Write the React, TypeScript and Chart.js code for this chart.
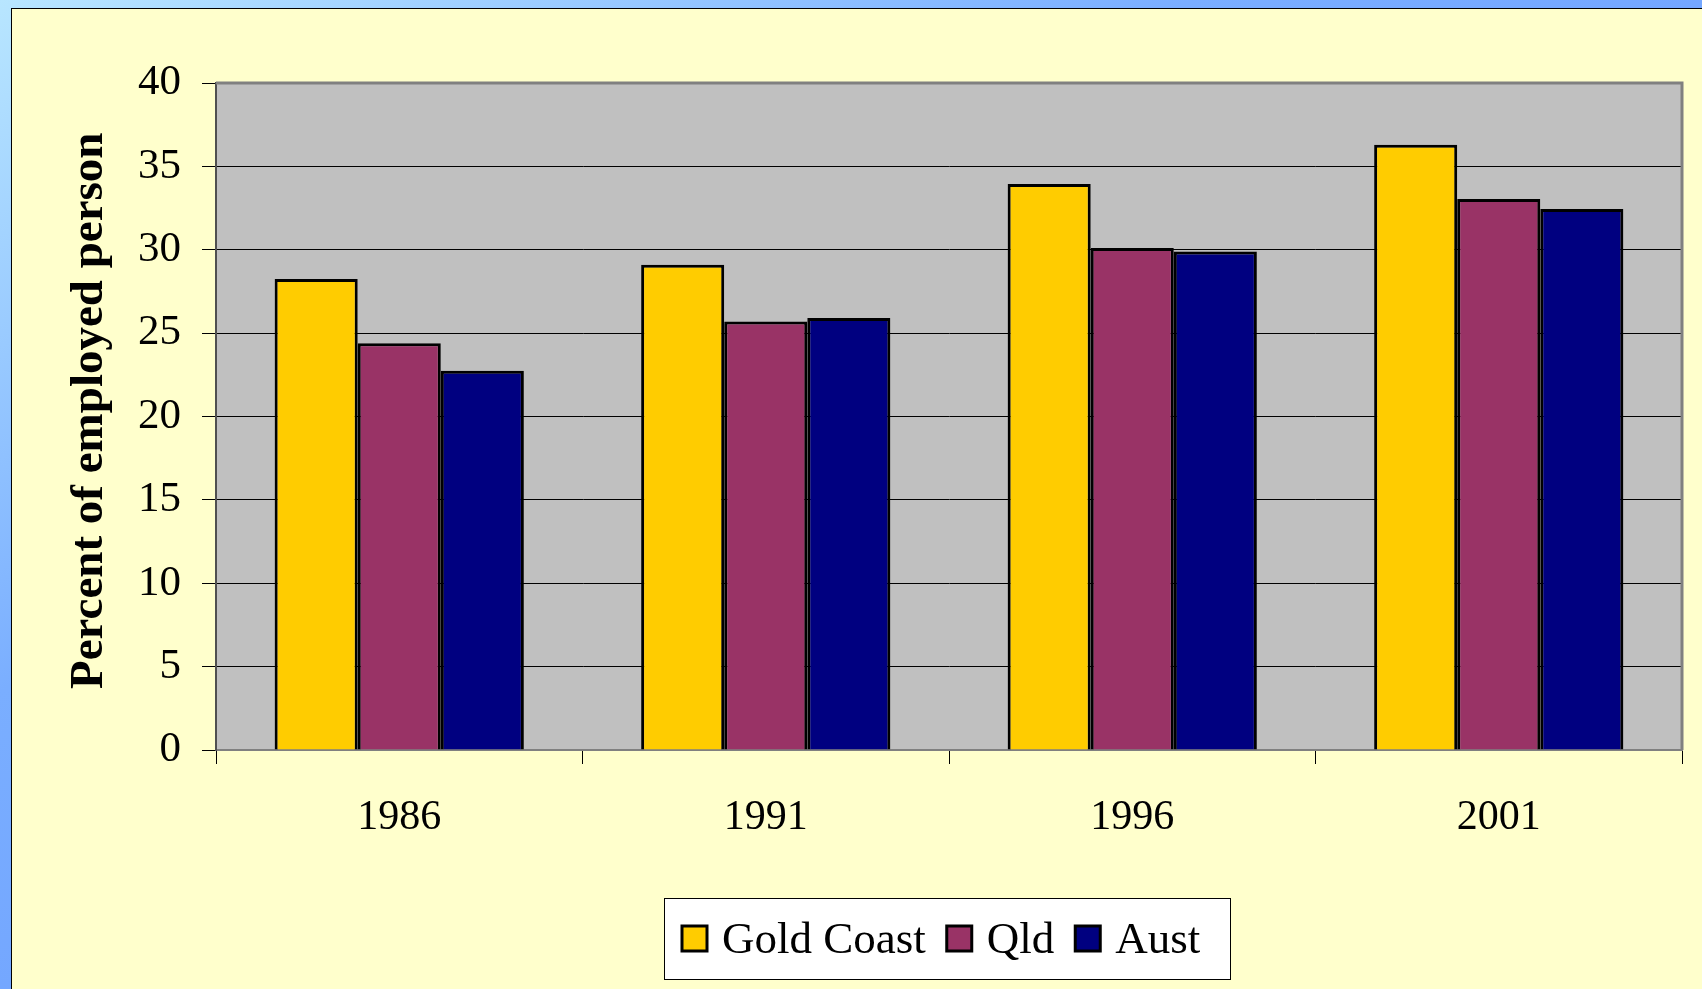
import React, { useEffect, useRef } from "react";
import { Chart, registerables } from "chart.js";

Chart.register(...registerables);

const years = ["1986", "1991", "1996", "2001"];
const goldCoast = [28.25, 29.1, 33.95, 36.3];
const qld = [24.4, 25.7, 30.1, 33.05];
const aust = [22.75, 25.9, 29.9, 32.45];
const seriesNames = ["Gold Coast", "Qld", "Aust"];
const seriesColors = ["#FFCC00", "#993366", "#000080"];
const yTitle = "Percent of employed persons";

const FONT = "'Liberation Serif', 'Times New Roman', serif";

const plotDecor = {
  id: "plotDecor",
  beforeDraw(chart: any) {
    const { ctx, chartArea: a } = chart;
    ctx.save();
    ctx.fillStyle = "#C0C0C0";
    ctx.fillRect(a.left, a.top, a.right - a.left, a.bottom - a.top);
    ctx.restore();
  },
  beforeDatasetsDraw(chart: any) {
    const { ctx, chartArea: a } = chart;
    ctx.save();
    ctx.strokeStyle = "#808080";
    ctx.lineWidth = 3;
    ctx.beginPath();
    ctx.moveTo(a.left, a.top);
    ctx.lineTo(a.right, a.top);
    ctx.lineTo(a.right, a.bottom);
    ctx.stroke();
    ctx.restore();
  },
  afterDraw(chart: any) {
    const { ctx } = chart;
    // rotated, clipped y-axis title
    ctx.save();
    ctx.beginPath();
    ctx.rect(0, 124, 200, 900);
    ctx.clip();
    ctx.translate(90, 680);
    ctx.rotate(-Math.PI / 2);
    ctx.fillStyle = "#000";
    ctx.font = `bold 47px ${FONT}`;
    ctx.textAlign = "left";
    ctx.textBaseline = "alphabetic";
    ctx.fillText(yTitle, 0, 0);
    ctx.restore();

    // legend box
    const bx = 652, by = 889, bw = 566, bh = 81;
    ctx.save();
    ctx.fillStyle = "#FFFFFF";
    ctx.fillRect(bx, by, bw, bh);
    ctx.strokeStyle = "#000";
    ctx.lineWidth = 1;
    ctx.strokeRect(bx + 0.5, by + 0.5, bw, bh);
    ctx.font = `45px ${FONT}`;
    const sq = 25, gapText = 15, gapItem = 21;
    let x = bx + 18;
    const cy = 929.5;
    seriesNames.forEach((n, i) => {
      ctx.fillStyle = seriesColors[i];
      ctx.fillRect(x, cy - sq / 2, sq, sq);
      ctx.strokeStyle = "#000";
      ctx.lineWidth = 3;
      ctx.strokeRect(x, cy - sq / 2, sq, sq);
      x += sq + gapText;
      ctx.fillStyle = "#000";
      ctx.textBaseline = "alphabetic";
      ctx.textAlign = "left";
      ctx.fillText(n, x, 944);
      x += ctx.measureText(n).width + gapItem;
    });
    ctx.restore();
  },
};

export default function App() {
  const ref = useRef<HTMLCanvasElement>(null);
  useEffect(() => {
    if (!ref.current) return;
    const data = [goldCoast, qld, aust];
    const chart = new Chart(ref.current, {
      type: "bar",
      data: {
        labels: years,
        datasets: seriesNames.map((name, i) => ({
          label: name,
          data: data[i],
          backgroundColor: seriesColors[i],
          borderColor: "#000",
          borderWidth: 3,
          categoryPercentage: 0.68,
          barPercentage: 1.0,
        })),
      },
      options: {
        responsive: false,
        animation: false,
        devicePixelRatio: 1,
        layout: { padding: { left: 0, right: 20, top: 74, bottom: 0 } },
        plugins: {
          legend: { display: false },
          tooltip: { enabled: false },
          title: { display: false },
        },
        scales: {
          x: {
            offset: true,
            grid: {
              offset: true,
              drawOnChartArea: false,
              drawTicks: true,
              tickLength: 14,
              color: "#000",
              lineWidth: 1,
            },
            border: { display: true, color: "#808080", width: 2 },
            ticks: {
              color: "#000",
              font: { family: FONT, size: 42 },
              padding: 29,
              maxRotation: 0,
            },
            afterFit(scale: any) {
              scale.height = 239;
            },
          },
          y: {
            min: 0,
            max: 40,
            grid: {
              color: "#000",
              lineWidth: 1,
              drawTicks: true,
              tickLength: 14,
            },
            border: { display: true, color: "#505050", width: 2 },
            ticks: {
              stepSize: 5,
              color: "#000",
              font: { family: FONT, size: 43 },
              padding: 21,
            },
            afterFit(scale: any) {
              scale.width = 204;
            },
          },
        },
      },
      plugins: [plotDecor],
    });
    return () => chart.destroy();
  }, []);

  return (
    <div
      style={{
        position: "absolute",
        left: 0,
        top: 0,
        width: 1702,
        height: 989,
        overflow: "hidden",
        background: "linear-gradient(to bottom right, #B8E6FF 0%, #7AAEFF 35%, #6090FF 100%)",
      }}
    >
      <div
        style={{
          position: "absolute",
          left: 11,
          top: 8,
          width: 1691,
          height: 981,
          background: "#FFFFCC",
          borderLeft: "1px solid #000",
          borderTop: "1px solid #000",
          boxSizing: "border-box",
        }}
      />
      <canvas
        ref={ref}
        width={1690}
        height={980}
        style={{ position: "absolute", left: 12, top: 9, width: 1690, height: 980 }}
      />
    </div>
  );
}
